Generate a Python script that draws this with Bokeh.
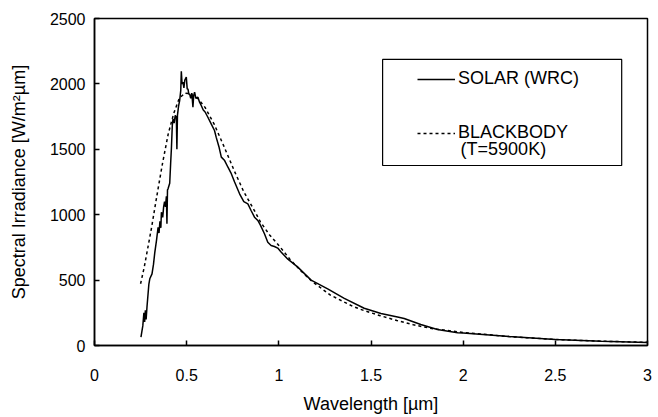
from bokeh.plotting import figure
from bokeh.models import (Range1d, FixedTicker, CustomJSTickFormatter, Legend,
                          LegendItem, Label, BoxAnnotation)
from bokeh.embed import file_html
from bokeh.resources import INLINE

# ---- data ----
solar_wl = [0.252, 0.262, 0.268, 0.272, 0.276, 0.280, 0.285, 0.295, 0.300, 0.312,
            0.320, 0.327, 0.336, 0.345, 0.350, 0.355, 0.360, 0.363, 0.370, 0.375,
            0.380, 0.385, 0.390, 0.393, 0.396, 0.399, 0.408, 0.413, 0.417, 0.422,
            0.426, 0.432, 0.438, 0.444, 0.447, 0.450, 0.456, 0.462, 0.468, 0.471,
            0.475, 0.480, 0.485, 0.490, 0.498, 0.503, 0.507, 0.512, 0.516, 0.522,
            0.528, 0.534, 0.538, 0.543, 0.550, 0.561, 0.570, 0.579, 0.590, 0.600,
            0.615, 0.633, 0.651, 0.660, 0.675, 0.688, 0.706, 0.724, 0.740, 0.760,
            0.787, 0.810, 0.832, 0.850, 0.868, 0.886, 0.900, 0.922, 0.940, 0.958,
            0.976, 0.994, 1.012, 1.049, 1.103, 1.175, 1.265, 1.355, 1.463, 1.554,
            1.644, 1.680, 1.770, 1.860, 1.970, 2.000, 2.250, 2.500, 2.750, 3.000]
solar_irr = [64, 150, 250, 180, 270, 200, 300, 470, 510, 548,
             620, 710, 800, 904, 860, 950, 900, 1019, 980, 1060,
             1100, 1060, 1140, 930, 1190, 1198, 1240, 1390, 1500, 1680,
             1733, 1700, 1760, 1745, 1500, 1760, 1830, 1873, 1950, 2097,
             2000, 2013, 1970, 2030, 2052, 1960, 1962, 1920, 1924, 1890,
             1930, 1822, 1910, 1937, 1890, 1898, 1860, 1835, 1800, 1785,
             1745, 1695, 1644, 1593, 1520, 1440, 1414, 1363, 1320, 1250,
             1160, 1100, 1083, 1030, 981, 956, 920, 854, 790, 765,
             757, 745, 715, 660, 599, 500, 433, 360, 285, 245,
             218, 206, 160, 122, 98, 95, 68, 45, 32, 22]

bb_wl = [0.25, 0.27, 0.29, 0.31, 0.33, 0.35, 0.37, 0.40, 0.43, 0.46,
         0.49, 0.52, 0.56, 0.60, 0.65, 0.70, 0.76, 0.81, 0.87, 0.90,
         0.95, 1.00, 1.06, 1.12, 1.18, 1.28, 1.40, 1.46, 1.55, 1.64,
         1.73, 1.83, 2.00, 2.25, 2.50, 2.75, 3.00]
bb_irr = [472, 600, 752, 905, 1075, 1240, 1400, 1618, 1775, 1890,
          1930, 1925, 1890, 1820, 1690, 1530, 1330, 1175, 1025, 945,
          845, 765, 660, 570, 490, 385, 300, 268, 228, 191,
          158, 130, 100, 68, 46, 33, 24]

x_ticks = [0, 0.5, 1, 1.5, 2, 2.5, 3]
y_ticks = [0, 500, 1000, 1500, 2000, 2500]

solar_name = "SOLAR (WRC)"
bb_name = "BLACKBODY"
bb_note = "(T=5900K)"
x_title = "Wavelength [µm]"
y_title = "Spectral Irradiance [W/m²µm]"

FONT = "Liberation Sans"

p = figure(width=658, height=417, output_backend="svg", toolbar_location=None,
           x_range=Range1d(0, 3), y_range=Range1d(0, 2500),
           min_border_left=94, min_border_right=11, min_border_top=18,
           min_border_bottom=72)
p.background_fill_color = "white"
p.border_fill_color = "white"
p.xgrid.visible = False
p.ygrid.visible = False
p.outline_line_color = "black"
p.outline_line_width = 1.5

r_solar = p.line(solar_wl, solar_irr, line_color="black", line_width=1.5)
r_bb = p.line(bb_wl, bb_irr, line_color="black", line_width=1.5, line_dash="3 3")

for ax in (p.xaxis[0], p.yaxis[0]):
    ax.axis_line_color = "black"
    ax.axis_line_width = 1.5
    ax.major_tick_line_color = "black"
    ax.major_tick_line_width = 1.5
    ax.major_tick_in = 5
    ax.major_tick_out = 0
    ax.minor_tick_in = 0
    ax.minor_tick_out = 0
    ax.major_label_text_font = FONT
    ax.major_label_text_font_size = "16px"
    ax.major_label_text_color = "black"
    ax.axis_label_text_font = FONT
    ax.axis_label_text_font_size = "18px"
    ax.axis_label_text_font_style = "normal"
    ax.axis_label_text_color = "black"

p.xaxis.ticker = FixedTicker(ticks=x_ticks)
p.xaxis.formatter = CustomJSTickFormatter(code="return String(tick);")
p.xaxis.major_label_standoff = 23
p.xaxis.axis_label = x_title
p.xaxis.axis_label_standoff = 10

p.yaxis.ticker = FixedTicker(ticks=y_ticks)
p.yaxis.major_label_standoff = 9
p.yaxis.axis_label = y_title
p.yaxis.axis_label_standoff = 18

# legend frame
p.add_layout(BoxAnnotation(left=1.563, right=2.860, top=2187, bottom=1376,
                           fill_alpha=0, line_color="black", line_alpha=1,
                           line_width=1.2))

legend = Legend(items=[LegendItem(label=solar_name, renderers=[r_solar]),
                       LegendItem(label=bb_name, renderers=[r_bb])],
                location=(323, 202), padding=0, margin=0, spacing=33,
                glyph_width=38, glyph_height=20, label_height=20,
                label_standoff=3, border_line_alpha=0, background_fill_alpha=0,
                label_text_font=FONT, label_text_font_size="18px",
                label_text_color="black")
p.add_layout(legend, "center")

p.add_layout(Label(x=1.986, y=1506, text=bb_note, text_font=FONT,
                   text_font_size="18px", text_baseline="middle",
                   text_color="black"))

open("out.html", "w").write(file_html(p, INLINE))
